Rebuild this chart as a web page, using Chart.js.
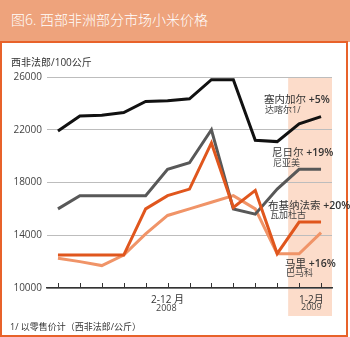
<!DOCTYPE html>
<html><head><meta charset="utf-8">
<script src="https://cdn.jsdelivr.net/npm/chart.js@4/dist/chart.umd.min.js"></script>
<style>
html,body{margin:0;padding:0;background:#fff;}
#wrap{position:relative;width:350px;height:337px;overflow:hidden;font-family:"Open Sans","Noto Sans CJK SC",sans-serif;color:#333;}
#hdr{position:absolute;left:0;top:0;width:350px;height:42px;background:#eea37c;}
#hdr span{position:absolute;left:11px;top:10px;font-size:14px;line-height:20px;color:#fff;white-space:nowrap;font-weight:300;}
#box{position:absolute;left:0;top:41px;width:344px;height:292px;border:2px solid #e8622a;}
#c{position:absolute;left:0;top:0;}
.t{position:absolute;white-space:nowrap;line-height:12px;}
.m{font-size:10.5px;color:#333;}
.m b{font-weight:600;}
.s{font-size:9px;color:#444;line-height:10px;}
</style></head>
<body>
<div id="wrap">
  <div id="hdr"><span>图6. 西部非洲部分市场小米价格</span></div>
  <div id="box"></div>
  <canvas id="c" width="350" height="337"></canvas>
  <div class="t" style="left:11px;top:56px;font-size:10px;">西非法郎/100公斤</div>

  <div class="t m" style="left:264px;top:93px;">塞内加尔 <b>+5%</b></div>
  <div class="t s" style="left:265px;top:105px;">达喀尔1/</div>

  <div class="t m" style="left:272px;top:146px;">尼日尔 <b>+19%</b></div>
  <div class="t s" style="left:273px;top:158px;">尼亚美</div>

  <div class="t m" style="left:268px;top:199px;">布基纳法索 <b>+20%</b></div>
  <div class="t s" style="left:270px;top:210px;">瓦加杜古</div>

  <div class="t m" style="left:285px;top:257px;">马里 <b>+16%</b></div>
  <div class="t s" style="left:286px;top:268px;">巴马科</div>

  <div class="t" style="left:151px;top:293px;font-size:10px;">2-12 月</div>
  <div class="t s" style="left:156px;top:303px;">2008</div>
  <div class="t" style="left:299px;top:293px;font-size:10px;">1-2月</div>
  <div class="t s" style="left:301px;top:302px;">2009</div>

  <div class="t" style="left:10px;top:321px;font-size:9px;">1/ 以零售价计（西非法郎/公斤）</div>
</div>
<script>
const months = ['2008-02','2008-03','2008-04','2008-05','2008-06','2008-07','2008-08','2008-09','2008-10','2008-11','2008-12','2009-01','2009-02'];
const senegalDakar = [21900,23050,23100,23300,24150,24200,24350,25800,25800,21200,21100,22450,23000];
const nigerNiamey = [16000,17000,17000,17000,17000,19000,19500,22000,16000,15600,17500,19000,19000];
const burkinaOuaga = [12500,12500,12500,12500,16000,17000,17500,21000,16100,17400,12600,15000,15000];
const maliBamako = [12250,12000,11700,12500,14100,15500,16000,16500,17000,16000,12600,12600,14200];
const yTicks = [10000,14000,18000,22000,26000];
const shadeFromIndex = 11; // 2009 months shaded

const deco = {
  id: 'deco',
  beforeDraw(chart) {
    const {ctx, chartArea, scales: {x, y}} = chart;
    const left = (x.getPixelForValue(shadeFromIndex - 1) + x.getPixelForValue(shadeFromIndex)) / 2;
    const top = y.getPixelForValue(26000) + 1;
    ctx.save();
    ctx.fillStyle = '#fcdcca';
    ctx.fillRect(left, top, chartArea.right - left, 316 - top);
    ctx.restore();
  },
  afterDatasetsDraw(chart) {
    const {ctx, chartArea, scales: {x}} = chart;
    ctx.save();
    ctx.strokeStyle = '#333';
    ctx.lineWidth = 1;
    months.forEach((m, i) => {
      const px = Math.round(x.getPixelForValue(i)) + 0.5;
      ctx.beginPath();
      ctx.moveTo(px, chartArea.bottom);
      ctx.lineTo(px, chartArea.bottom - 5);
      ctx.stroke();
    });
    ctx.restore();
  }
};

const mk = (data, color) => ({data, borderColor: color, borderWidth: 3, pointRadius: 0, tension: 0, fill: false, borderJoinStyle: 'miter'});

new Chart(document.getElementById('c'), {
  type: 'line',
  data: {
    labels: months,
    datasets: [
      mk(senegalDakar, '#111111'),
      mk(burkinaOuaga, '#e0561d'),
      mk(nigerNiamey, '#585858'),
      mk(maliBamako, '#f09468')
    ]
  },
  options: {
    responsive: false,
    animation: false,
    devicePixelRatio: 1,
    layout: {padding: {top: 77, bottom: 49, left: 0, right: 18}},
    plugins: {legend: {display: false}, tooltip: {enabled: false}},
    scales: {
      x: {
        type: 'category',
        offset: true,
        ticks: {display: false},
        grid: {display: true, color: 'transparent', drawTicks: false, offset: false},
        border: {display: true, color: '#333', width: 1.5},
        afterFit: s => { s.height = 0; }
      },
      y: {
        min: 10000, max: 26000,
        afterBuildTicks: s => { s.ticks = yTicks.map(v => ({value: v})); },
        ticks: {
          callback: v => String(v),
          font: {family: '"Open Sans", sans-serif', size: 10},
          color: '#444',
          padding: 5
        },
        grid: {color: '#bdbdbd', lineWidth: 1, drawTicks: false},
        border: {display: false},
        afterFit: s => { s.width = 47; }
      }
    }
  },
  plugins: [deco]
});
</script>
</body></html>
